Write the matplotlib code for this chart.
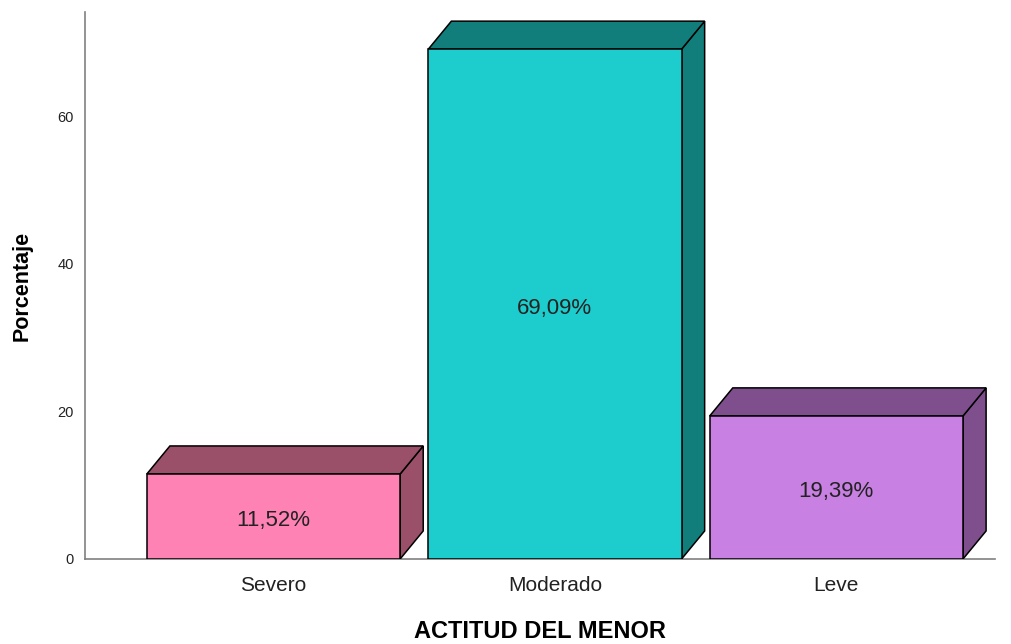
import matplotlib.pyplot as plt
from matplotlib.patches import Polygon

categorias = ['Severo', 'Moderado', 'Leve']
porcentajes = [11.52, 69.09, 19.39]
etiquetas = ['11,52%', '69,09%', '19,39%']
color_frente = ['#FF82B4', '#1DCDCD', '#C880E2']
color_lado = ['#9A5069', '#127E7B', '#7E4F8C']

plt.rcParams['font.family'] = ['Liberation Sans', 'DejaVu Sans']

fig = plt.figure(figsize=(10.11, 6.44), dpi=100)
ax = fig.add_axes([0.084, 0.132, 0.9, 0.849])

ancho = 0.9
dx = 0.082   # profundidad horizontal (datos)
dy = 3.8     # profundidad vertical (datos)

for i, h in enumerate(porcentajes):
    x0 = i - ancho / 2
    x1 = i + ancho / 2
    frente = Polygon([(x0, 0), (x1, 0), (x1, h), (x0, h)], closed=True,
                     facecolor=color_frente[i], edgecolor='black', lw=1.1, zorder=3)
    lado = Polygon([(x1, 0), (x1 + dx, dy), (x1 + dx, h + dy), (x1, h)], closed=True,
                   facecolor=color_lado[i], edgecolor='black', lw=1.1, zorder=3)
    tapa = Polygon([(x0, h), (x1, h), (x1 + dx, h + dy), (x0 + dx, h + dy)], closed=True,
                   facecolor=color_lado[i], edgecolor='black', lw=1.1, zorder=3)
    ax.add_patch(lado)
    ax.add_patch(tapa)
    ax.add_patch(frente)
    ax.annotate(etiquetas[i], (i, h / 2), xytext=(0, -3), textcoords='offset points',
                ha='center', va='center', fontsize=16, color='#222222', zorder=4)

ax.set_xlim(-0.67, 2.563)
ax.set_ylim(0, 74.1)
ax.set_xticks(range(len(categorias)))
ax.set_xticklabels(categorias, fontsize=15, color='#222222')
ax.set_yticks([0, 20, 40, 60])
ax.tick_params(axis='y', length=0, pad=8, labelsize=10.5, labelcolor='#222222')
ax.tick_params(axis='x', length=0, pad=12)

for s in ['top', 'right']:
    ax.spines[s].set_visible(False)
for s in ['left', 'bottom']:
    ax.spines[s].set_color('#808080')
    ax.spines[s].set_linewidth(1.2)

ax.set_ylabel('Porcentaje', fontsize=15.5, fontweight='bold', labelpad=18)
ax.set_xlabel('ACTITUD DEL MENOR', fontsize=17, fontweight='bold', labelpad=18)

fig.savefig('out.png', dpi=100)
